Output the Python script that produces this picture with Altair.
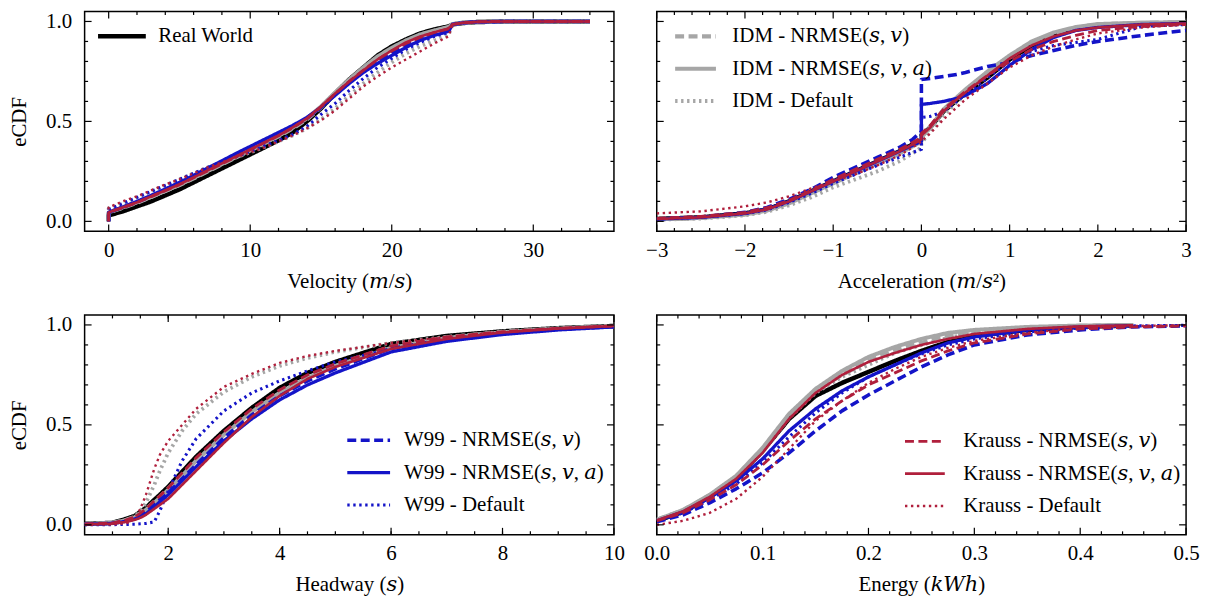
import altair as alt
import pandas as pd

# ---------------- data ----------------
SERIES = [
    "Real World",
    "IDM - NRMSE(𝑠, 𝑣)",
    "IDM - NRMSE(𝑠, 𝑣, 𝑎)",
    "IDM - Default",
    "W99 - NRMSE(𝑠, 𝑣)",
    "W99 - NRMSE(𝑠, 𝑣, 𝑎)",
    "W99 - Default",
    "Krauss - NRMSE(𝑠, 𝑣)",
    "Krauss - NRMSE(𝑠, 𝑣, 𝑎)",
    "Krauss - Default",
]

# Velocity panel
VEL_X = [0, 0, 1, 2, 3, 4, 5, 6, 7, 8, 9, 10, 11, 12, 13, 14, 15, 16, 17, 18, 19,
         20, 21, 22, 23, 24, 24.3, 25, 26, 28, 34]
VEL_REAL = [0, 0.03, 0.05, 0.075, 0.10, 0.13, 0.16, 0.195, 0.23, 0.265, 0.30, 0.335, 0.37, 0.405,
            0.445, 0.50, 0.565, 0.64, 0.71, 0.77, 0.83, 0.875, 0.91, 0.94, 0.96, 0.975, 0.985,
            0.992, 0.997, 1.0, 1.0]
VEL_IDM_SV = [0, 0.045, 0.068, 0.093, 0.122, 0.152, 0.182, 0.215, 0.25, 0.285, 0.32, 0.355, 0.39,
              0.425, 0.465, 0.51, 0.57, 0.64, 0.705, 0.765, 0.82, 0.862, 0.9, 0.93, 0.952, 0.97,
              0.986, 0.993, 0.998, 1.0, 1.0]
VEL_IDM_SVA = [0, 0.045, 0.07, 0.095, 0.123, 0.153, 0.183, 0.217, 0.252, 0.287, 0.322, 0.357, 0.392,
               0.428, 0.468, 0.515, 0.575, 0.645, 0.71, 0.77, 0.825, 0.868, 0.905, 0.935, 0.955,
               0.972, 0.987, 0.994, 0.998, 1.0, 1.0]
VEL_IDM_DEF = [0, 0.065, 0.09, 0.12, 0.15, 0.18, 0.21, 0.24, 0.27, 0.295, 0.32, 0.345, 0.372, 0.40,
               0.43, 0.465, 0.51, 0.565, 0.63, 0.69, 0.745, 0.795, 0.84, 0.875, 0.905, 0.93, 0.985,
               0.993, 0.998, 1.0, 1.0]
VEL_W99_SV = [0, 0.045, 0.07, 0.097, 0.127, 0.158, 0.19, 0.225, 0.26, 0.295, 0.33, 0.365, 0.40,
              0.435, 0.473, 0.515, 0.57, 0.635, 0.695, 0.75, 0.8, 0.845, 0.885, 0.915, 0.94, 0.96,
              0.985, 0.993, 0.998, 1.0, 1.0]
VEL_W99_SVA = [0, 0.045, 0.072, 0.1, 0.13, 0.162, 0.195, 0.23, 0.267, 0.303, 0.34, 0.375, 0.41,
               0.445, 0.48, 0.52, 0.57, 0.63, 0.69, 0.745, 0.79, 0.83, 0.87, 0.905, 0.93, 0.95,
               0.985, 0.993, 0.998, 1.0, 1.0]
VEL_W99_DEF = [0, 0.06, 0.09, 0.12, 0.15, 0.18, 0.21, 0.24, 0.27, 0.297, 0.323, 0.35, 0.377, 0.405,
               0.435, 0.475, 0.535, 0.59, 0.655, 0.715, 0.77, 0.815, 0.86, 0.895, 0.925, 0.945,
               0.985, 0.993, 0.998, 1.0, 1.0]
VEL_KR_SV = [0, 0.045, 0.069, 0.094, 0.124, 0.154, 0.184, 0.218, 0.253, 0.288, 0.323, 0.358, 0.393,
             0.428, 0.468, 0.512, 0.572, 0.638, 0.7, 0.757, 0.81, 0.852, 0.89, 0.92, 0.945, 0.963,
             0.985, 0.993, 0.998, 1.0, 1.0]
VEL_KR_SVA = [0, 0.045, 0.07, 0.095, 0.125, 0.155, 0.185, 0.22, 0.255, 0.29, 0.325, 0.36, 0.395,
              0.43, 0.47, 0.515, 0.575, 0.64, 0.70, 0.755, 0.81, 0.855, 0.895, 0.925, 0.945, 0.965,
              0.985, 0.993, 0.998, 1.0, 1.0]
VEL_KR_DEF = [0, 0.07, 0.10, 0.125, 0.155, 0.185, 0.21, 0.24, 0.27, 0.295, 0.32, 0.345, 0.37, 0.40,
              0.43, 0.465, 0.505, 0.555, 0.615, 0.675, 0.725, 0.77, 0.81, 0.85, 0.89, 0.925, 0.985,
              0.993, 0.998, 1.0, 1.0]

# Acceleration panel
ACC_X = [-3, -2.5, -2, -1.75, -1.5, -1.25, -1, -0.75, -0.5, -0.25, -0.1, 0, 0, 0.1, 0.25, 0.4,
         0.5, 0.75, 1, 1.25, 1.5, 1.75, 2, 2.5, 3]
ACC_REAL = [0.012, 0.02, 0.04, 0.06, 0.10, 0.15, 0.20, 0.25, 0.30, 0.35, 0.385, 0.41, 0.43, 0.47,
            0.55, 0.605, 0.64, 0.72, 0.81, 0.88, 0.93, 0.96, 0.978, 0.99, 0.993]
ACC_IDM_SV = [0.01, 0.018, 0.036, 0.056, 0.095, 0.145, 0.195, 0.245, 0.295, 0.345, 0.38, 0.405,
              0.425, 0.47, 0.555, 0.615, 0.655, 0.74, 0.82, 0.89, 0.94, 0.97, 0.985, 0.993, 0.995]
ACC_IDM_SVA = [0.01, 0.017, 0.034, 0.054, 0.09, 0.14, 0.19, 0.24, 0.29, 0.34, 0.375, 0.40, 0.42,
               0.47, 0.56, 0.62, 0.66, 0.75, 0.83, 0.9, 0.945, 0.972, 0.987, 0.994, 0.996]
ACC_IDM_DEF = [0.008, 0.014, 0.03, 0.048, 0.08, 0.12, 0.17, 0.21, 0.25, 0.30, 0.34, 0.37, 0.39,
               0.45, 0.53, 0.595, 0.635, 0.73, 0.82, 0.89, 0.94, 0.968, 0.984, 0.992, 0.995]
ACC_W99_SV = [0.012, 0.022, 0.045, 0.07, 0.11, 0.16, 0.22, 0.27, 0.32, 0.37, 0.41, 0.45, 0.71,
              0.715, 0.725, 0.735, 0.745, 0.775, 0.795, 0.83, 0.855, 0.88, 0.90, 0.93, 0.955]
ACC_W99_SVA = [0.012, 0.02, 0.04, 0.062, 0.10, 0.15, 0.20, 0.25, 0.30, 0.35, 0.38, 0.40, 0.585,
               0.59, 0.60, 0.615, 0.63, 0.69, 0.78, 0.86, 0.92, 0.955, 0.97, 0.985, 0.99]
ACC_W99_DEF = [0.012, 0.02, 0.038, 0.058, 0.095, 0.14, 0.19, 0.235, 0.28, 0.32, 0.345, 0.36, 0.52,
               0.525, 0.55, 0.6, 0.635, 0.72, 0.80, 0.85, 0.88, 0.895, 0.91, 0.975, 0.985]
ACC_KR_SV = [0.015, 0.025, 0.045, 0.068, 0.105, 0.155, 0.21, 0.26, 0.31, 0.36, 0.395, 0.42, 0.44,
             0.48, 0.56, 0.615, 0.65, 0.73, 0.80, 0.86, 0.90, 0.93, 0.955, 0.975, 0.985]
ACC_KR_SVA = [0.012, 0.02, 0.04, 0.06, 0.10, 0.15, 0.20, 0.25, 0.30, 0.35, 0.385, 0.41, 0.43, 0.47,
              0.55, 0.61, 0.645, 0.73, 0.815, 0.88, 0.925, 0.955, 0.97, 0.985, 0.99]
ACC_KR_DEF = [0.04, 0.05, 0.075, 0.095, 0.125, 0.165, 0.2, 0.235, 0.28, 0.33, 0.37, 0.40, 0.40,
              0.44, 0.51, 0.57, 0.61, 0.69, 0.77, 0.83, 0.875, 0.91, 0.94, 0.97, 0.985]

# Headway panel
HEAD_X = [0.5, 1, 1.25, 1.4, 1.5, 1.6, 1.75, 1.85, 2, 2.25, 2.5, 3, 3.5, 4, 4.5, 5, 6, 7, 8, 9, 10]
HEAD_REAL = [0.005, 0.01, 0.03, 0.045, 0.065, 0.085, 0.125, 0.15, 0.19, 0.265, 0.34, 0.47, 0.585,
             0.685, 0.76, 0.815, 0.905, 0.945, 0.968, 0.984, 0.995]
HEAD_IDM_SV = [0.004, 0.009, 0.025, 0.04, 0.058, 0.078, 0.115, 0.14, 0.18, 0.25, 0.325, 0.455,
               0.57, 0.665, 0.74, 0.80, 0.89, 0.938, 0.965, 0.982, 0.994]
HEAD_IDM_SVA = [0.004, 0.009, 0.024, 0.038, 0.055, 0.075, 0.11, 0.135, 0.175, 0.245, 0.32, 0.45,
                0.565, 0.66, 0.735, 0.795, 0.885, 0.935, 0.963, 0.981, 0.994]
HEAD_IDM_DEF = [0.005, 0.01, 0.02, 0.04, 0.07, 0.11, 0.2, 0.27, 0.36, 0.47, 0.555, 0.665, 0.74,
                0.795, 0.835, 0.865, 0.91, 0.94, 0.965, 0.983, 0.996]
HEAD_W99_SV = [0.003, 0.008, 0.02, 0.033, 0.048, 0.065, 0.1, 0.125, 0.16, 0.23, 0.3, 0.435, 0.55,
               0.645, 0.72, 0.78, 0.882, 0.93, 0.958, 0.978, 0.992]
HEAD_W99_SVA = [0.003, 0.007, 0.018, 0.03, 0.04, 0.055, 0.09, 0.115, 0.15, 0.22, 0.29, 0.42, 0.53,
                0.625, 0.70, 0.76, 0.865, 0.918, 0.952, 0.975, 0.99]
HEAD_W99_DEF = [0.0, 0.001, 0.002, 0.003, 0.005, 0.007, 0.015, 0.07, 0.17, 0.32, 0.43, 0.57, 0.66,
                0.72, 0.77, 0.815, 0.88, 0.925, 0.958, 0.98, 0.994]
HEAD_KR_SV = [0.004, 0.009, 0.025, 0.04, 0.058, 0.08, 0.12, 0.145, 0.185, 0.26, 0.335, 0.465, 0.58,
              0.675, 0.75, 0.805, 0.895, 0.94, 0.966, 0.983, 0.995]
HEAD_KR_SVA = [0.003, 0.006, 0.015, 0.025, 0.035, 0.05, 0.08, 0.1, 0.13, 0.2, 0.27, 0.41, 0.54,
               0.645, 0.73, 0.79, 0.88, 0.93, 0.962, 0.982, 0.995]
HEAD_KR_DEF = [0.0, 0.002, 0.008, 0.03, 0.08, 0.15, 0.28, 0.35, 0.42, 0.5, 0.58, 0.69, 0.755, 0.81,
               0.845, 0.87, 0.91, 0.94, 0.965, 0.983, 0.996]

# Energy panel (None = series ends earlier)
EN_X = [0, 0.025, 0.05, 0.075, 0.1, 0.125, 0.15, 0.175, 0.2, 0.225, 0.25, 0.275, 0.3, 0.35, 0.4,
        0.45, 0.5]
EN_REAL = [0.02, 0.065, 0.14, 0.23, 0.37, 0.53, 0.645, 0.71, 0.765, 0.82, 0.87, 0.915, 0.945,
           0.975, 0.99, 0.998, None]
EN_IDM_SV = [0.025, 0.072, 0.148, 0.24, 0.375, 0.545, 0.67, 0.75, 0.82, 0.875, 0.91, 0.945, 0.965,
             0.985, 0.995, 0.999, None]
EN_IDM_SVA = [0.025, 0.075, 0.15, 0.245, 0.385, 0.555, 0.68, 0.77, 0.84, 0.89, 0.93, 0.96, 0.975,
              0.99, 0.997, 1.0, None]
EN_IDM_DEF = [0.022, 0.07, 0.145, 0.235, 0.365, 0.535, 0.66, 0.74, 0.80, 0.86, 0.90, 0.935, 0.96,
              0.983, 0.994, 0.999, None]
EN_W99_SV = [0.015, 0.05, 0.11, 0.18, 0.26, 0.36, 0.47, 0.57, 0.65, 0.72, 0.79, 0.85, 0.9, 0.95,
             0.975, 0.99, 0.995]
EN_W99_SVA = [0.02, 0.065, 0.135, 0.22, 0.33, 0.47, 0.58, 0.67, 0.74, 0.80, 0.86, 0.91, 0.94,
              0.975, 0.99, 0.997, None]
EN_W99_DEF = [0.018, 0.06, 0.125, 0.205, 0.31, 0.44, 0.56, 0.66, 0.74, 0.80, 0.855, 0.9, 0.93,
              0.965, 0.985, 0.995, 0.998]
EN_KR_SV = [0.02, 0.06, 0.125, 0.2, 0.3, 0.42, 0.53, 0.62, 0.70, 0.76, 0.82, 0.87, 0.91, 0.955,
            0.98, 0.99, 0.995]
EN_KR_SVA = [0.022, 0.068, 0.14, 0.23, 0.36, 0.53, 0.66, 0.75, 0.815, 0.86, 0.90, 0.93, 0.955,
             0.98, 0.993, 0.998, None]
EN_KR_DEF = [0.0, 0.02, 0.06, 0.13, 0.24, 0.38, 0.52, 0.62, 0.71, 0.78, 0.84, 0.885, 0.92, 0.96,
             0.985, 0.995, 0.998]

# ---------------- styling ----------------
FONT = "Liberation Serif, DejaVu Serif, serif"
FS = 21
BLACK, GRAY, BLUE, RED = "#000000", "#a6a6a6", "#1414c8", "#b01f3c"
COLORS = [BLACK, GRAY, GRAY, GRAY, BLUE, BLUE, BLUE, RED, RED, RED]
SOLID, DASH, DOT = [1, 0], [9, 4.5], [2.4, 3.6]
DASHES = [SOLID, DASH, SOLID, DOT, DASH, SOLID, DOT, DASH, SOLID, DOT]
WIDTHS = [4.5] + [2.4] * 9

W, H = 532, 221
MAJ, MIN = 7, 3.5
Y_DOMAIN = [-0.05, 1.05]
Y_MAJOR = [0, 0.5, 1.0]
Y_MINOR = [0.1, 0.2, 0.3, 0.4, 0.6, 0.7, 0.8, 0.9]


def tick_layers(xs_scale, ys_scale, xaxis, yaxis, x_major, x_minor):
    out = []
    for vals, L in ((x_major, MAJ), (x_minor, MIN)):
        base = alt.Chart(pd.DataFrame({"x": vals})).mark_rule(color="black", strokeWidth=1.2)
        xe = alt.X("x:Q", scale=xs_scale, axis=xaxis)
        out.append(base.encode(x=xe, y=alt.value(H), y2=alt.value(H - L)))
        out.append(base.encode(x=xe, y=alt.value(0), y2=alt.value(L)))
    for vals, L in ((Y_MAJOR, MAJ), (Y_MINOR, MIN)):
        base = alt.Chart(pd.DataFrame({"F": vals})).mark_rule(color="black", strokeWidth=1.2)
        ye = alt.Y("F:Q", scale=ys_scale, axis=yaxis)
        out.append(base.encode(y=ye, x=alt.value(0), x2=alt.value(L)))
        out.append(base.encode(y=ye, x=alt.value(W), x2=alt.value(W - L)))
    return out


def panel(xgrid, series_vals, xdomain, x_major, x_minor, xtitle, xfmt, show_y,
          legend_vals, lx, ly, sym_len, label_off):
    xs_scale = alt.Scale(domain=xdomain, nice=False, zero=False)
    ys_scale = alt.Scale(domain=Y_DOMAIN, nice=False, zero=False)
    leg = alt.Legend(values=legend_vals, orient="none", legendX=lx, legendY=ly, title=None,
                     symbolType="stroke", symbolSize=sym_len * sym_len, labelOffset=label_off,
                     labelFont=FONT, labelFontSize=FS, labelColor="black", clipHeight=20,
                     rowPadding=11.5, padding=0, symbolOffset=0, labelLimit=0)
    xaxis = alt.Axis(values=x_major, format=xfmt, title=xtitle, labelFlush=False,
                     labelOverlap=False)
    yaxis = (alt.Axis(values=Y_MAJOR, format=".1f", title="eCDF", labelOverlap=False)
             if show_y else None)
    layers = []
    for name, vals in zip(SERIES, series_vals):
        assert len(vals) == len(xgrid), (name, len(vals), len(xgrid))
        df = pd.DataFrame({"x": xgrid, "F": vals, "series": name}).dropna()
        layers.append(
            alt.Chart(df).mark_line(clip=True, strokeJoin="round").encode(
                x=alt.X("x:Q", scale=xs_scale, axis=xaxis),
                y=alt.Y("F:Q", scale=ys_scale, axis=yaxis),
                color=alt.Color("series:N", scale=alt.Scale(domain=SERIES, range=COLORS),
                                legend=leg),
                strokeDash=alt.StrokeDash("series:N", scale=alt.Scale(domain=SERIES, range=DASHES),
                                          legend=leg),
                strokeWidth=alt.StrokeWidth("series:N",
                                            scale=alt.Scale(domain=SERIES, range=WIDTHS),
                                            legend=leg),
            )
        )
    layers += tick_layers(xs_scale, ys_scale, xaxis, yaxis, x_major, x_minor)
    return alt.layer(*layers).properties(width=W, height=H)


tl = panel(VEL_X, [VEL_REAL, VEL_IDM_SV, VEL_IDM_SVA, VEL_IDM_DEF, VEL_W99_SV, VEL_W99_SVA,
                   VEL_W99_DEF, VEL_KR_SV, VEL_KR_SVA, VEL_KR_DEF],
           [-1.7, 35.7], [0, 10, 20, 30], [v for v in range(2, 36, 2) if v % 10],
           "Velocity (𝑚/𝑠)", "d", True, [SERIES[0]], 11, 15, 48, 10)

tr = panel(ACC_X, [ACC_REAL, ACC_IDM_SV, ACC_IDM_SVA, ACC_IDM_DEF, ACC_W99_SV, ACC_W99_SVA,
                   ACC_W99_DEF, ACC_KR_SV, ACC_KR_SVA, ACC_KR_DEF],
           [-3, 3], [-3, -2, -1, 0, 1, 2, 3],
           [round(-3 + 0.2 * i, 2) for i in range(31) if i % 5],
           "Acceleration (𝑚/𝑠²)", "d", False, SERIES[1:4], 16, 15, 41, 14)

bl = panel(HEAD_X, [HEAD_REAL, HEAD_IDM_SV, HEAD_IDM_SVA, HEAD_IDM_DEF, HEAD_W99_SV, HEAD_W99_SVA,
                    HEAD_W99_DEF, HEAD_KR_SV, HEAD_KR_SVA, HEAD_KR_DEF],
           [0.5, 10], [2, 4, 6, 8, 10], [round(1 + 0.5 * i, 2) for i in range(18)],
           "Headway (𝑠)", "d", True, SERIES[4:7], 262, 116, 43, 12)

br = panel(EN_X, [EN_REAL, EN_IDM_SV, EN_IDM_SVA, EN_IDM_DEF, EN_W99_SV, EN_W99_SVA,
                  EN_W99_DEF, EN_KR_SV, EN_KR_SVA, EN_KR_DEF],
           [0, 0.5], [0, 0.1, 0.2, 0.3, 0.4, 0.5],
           [round(0.02 * i, 3) for i in range(1, 25) if i % 5],
           "Energy (𝑘𝑊ℎ)", ".1f", False, SERIES[7:10], 248, 117, 40, 17)

chart = alt.concat(
    tl, tr, bl, br, columns=2, spacing={"row": 84, "column": 43}, bounds="flush"
).resolve_scale(
    x="independent", y="independent", color="independent",
    strokeDash="independent", strokeWidth="independent"
).properties(
    padding={"left": 0, "top": 0, "right": 0, "bottom": 0}
).configure_view(
    stroke="black", strokeWidth=1.5
).configure_axis(
    grid=False, domain=False, ticks=False,
    labelFont=FONT, labelFontSize=FS, labelColor="black", labelPadding=8,
    titleFont=FONT, titleFontSize=FS, titleColor="black", titleFontWeight="normal",
    titlePadding=10,
).configure_axisY(
    labelPadding=13, titlePadding=16
)

chart.save("out.html", embed_options={"renderer": "svg", "actions": False})
